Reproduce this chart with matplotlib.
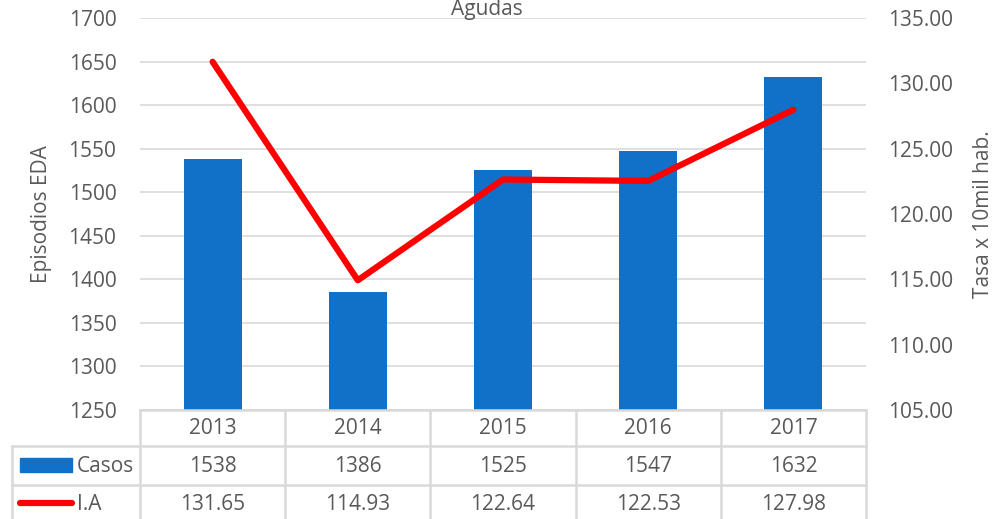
import matplotlib.pyplot as plt
import matplotlib.transforms as mtransforms
from matplotlib.lines import Line2D
from matplotlib.patches import Rectangle

years = ["2013", "2014", "2015", "2016", "2017"]
casos = [1538, 1386, 1525, 1547, 1632]
tasa = [131.65, 114.93, 122.64, 122.53, 127.98]
casos_labels = ["1538", "1386", "1525", "1547", "1632"]
tasa_labels = ["131.65", "114.93", "122.64", "122.53", "127.98"]

BLUE = "#1170C8"
RED = "#FF0000"
GRID = "#D9D9D9"
TXT = "#595959"
W, H = 996, 519

plt.rcParams["font.family"] = ["Open Sans", "DejaVu Sans"]
fs = 15

fig = plt.figure(figsize=(W / 100, H / 100), dpi=100)


def fy(y):
    return 1 - y / H


def fx(x):
    return x / W


ax = fig.add_axes([fx(140), fy(410), (866 - 140) / W, (410 - 18) / H])
x = list(range(len(years)))
ax.bar(x, casos, width=0.4, color=BLUE, zorder=2)
ax.set_xlim(-0.5, len(years) - 0.5)
ax.set_ylim(1250, 1700)
ax.set_yticks(range(1250, 1701, 50))
ax.set_xticks([])
ax.grid(axis="y", color=GRID, linewidth=1.2, zorder=0)
for s in ax.spines.values():
    s.set_visible(False)
ax.tick_params(axis="y", length=0, labelsize=fs, labelcolor=TXT, pad=17)
ax.set_ylabel("Episodios EDA", fontsize=fs, color=TXT, labelpad=12)

ax2 = ax.twinx()
ax2.plot(x, tasa, color=RED, linewidth=4.5, solid_capstyle="round",
         solid_joinstyle="round", zorder=3)
ax2.set_ylim(105, 135)
ax2.set_yticks(range(105, 136, 5))
ax2.set_yticklabels([f"{v:.2f}" for v in range(105, 136, 5)])
for s in ax2.spines.values():
    s.set_visible(False)
ax2.tick_params(axis="y", length=0, labelsize=fs, labelcolor=TXT, pad=16)
ax2.set_ylabel("Tasa x 10mil hab.", fontsize=fs, color=TXT, labelpad=14)

fig.text(0.489, fy(9), "Agudas", ha="center", va="center", fontsize=fs, color=TXT)

# data table under the axes
bt = mtransforms.blended_transform_factory(ax.transData, fig.transFigure)
rows = [410, 446, 485, 540]
lw = 1.8
for i in range(len(years) + 1):
    ax.add_line(Line2D([i - 0.5, i - 0.5], [fy(rows[0]), fy(rows[-1])], transform=bt,
                       color=GRID, linewidth=lw, clip_on=False))
ax.add_line(Line2D([fx(140), fx(866)], [fy(410), fy(410)], transform=fig.transFigure,
                   color=GRID, linewidth=lw, clip_on=False))
for y in rows[1:3]:
    ax.add_line(Line2D([fx(12), fx(866)], [fy(y), fy(y)], transform=fig.transFigure,
                       color=GRID, linewidth=lw, clip_on=False))
ax.add_line(Line2D([fx(12), fx(12)], [fy(446), fy(540)], transform=fig.transFigure,
                   color=GRID, linewidth=lw, clip_on=False))

for i, yr in enumerate(years):
    ax.text(i, fy(429), yr, transform=bt, ha="center", va="center", fontsize=fs, color=TXT)
    ax.text(i, fy(466), casos_labels[i], transform=bt, ha="center", va="center",
            fontsize=fs, color=TXT)
    ax.text(i, fy(505), tasa_labels[i], transform=bt, ha="center", va="center",
            fontsize=fs, color=TXT)

fig.patches.append(Rectangle((fx(20), fy(472)), fx(52), 14 / H, transform=fig.transFigure,
                             color=BLUE))
fig.text(fx(77), fy(466), "Casos", ha="left", va="center", fontsize=fs, color=TXT)
fig.lines.append(Line2D([fx(20), fx(72)], [fy(503), fy(503)], transform=fig.transFigure,
                        color=RED, linewidth=4.5, solid_capstyle="round"))
fig.text(fx(77), fy(505), "I.A", ha="left", va="center", fontsize=fs, color=TXT)

fig.savefig("out.png", dpi=100, facecolor="white")
